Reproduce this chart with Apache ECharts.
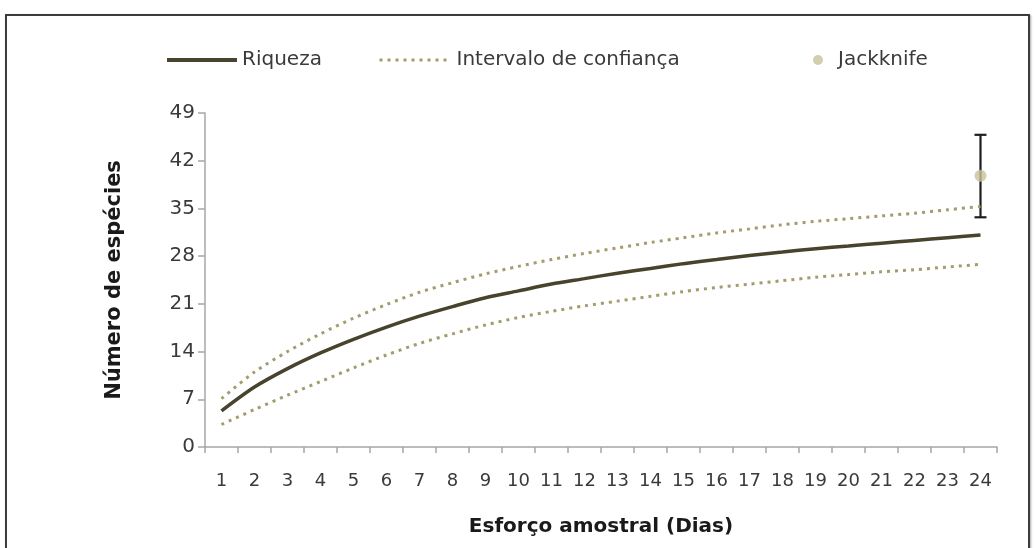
<!DOCTYPE html>
<html>
<head>
<meta charset="utf-8">
<script src="https://cdn.jsdelivr.net/npm/echarts@6/dist/echarts.min.js"></script>
<style>
  html, body { margin: 0; padding: 0; background: #ffffff; }
  #chart { position: absolute; left: 0; top: 0; width: 1034px; height: 548px; }
  #frame { position: absolute; left: 5px; top: 14px; width: 1021px; height: 560px;
           border: 2px solid #3c3c3c; box-shadow: 1px 1px 2px rgba(0,0,0,0.35); pointer-events: none; }
</style>
</head>
<body>
<div id="chart"></div>
<div id="frame"></div>
<script>
const days = ['1','2','3','4','5','6','7','8','9','10','11','12','13','14','15','16','17','18','19','20','21','22','23','24'];
const riqueza = [5.3, 8.8, 11.5, 13.8, 15.8, 17.6, 19.2, 20.6, 21.9, 22.9, 23.9, 24.7, 25.5, 26.2, 26.9, 27.5, 28.1, 28.6, 29.1, 29.5, 29.9, 30.3, 30.7, 31.1];
const icSuperior = [7.1, 11.0, 14.0, 16.6, 18.9, 20.9, 22.7, 24.1, 25.4, 26.5, 27.5, 28.4, 29.2, 30.0, 30.7, 31.4, 32.0, 32.6, 33.1, 33.5, 33.9, 34.3, 34.8, 35.3];
const icInferior = [3.3, 5.5, 7.6, 9.6, 11.6, 13.5, 15.2, 16.6, 17.9, 19.0, 19.9, 20.7, 21.4, 22.1, 22.8, 23.4, 23.9, 24.4, 24.9, 25.3, 25.7, 26.0, 26.4, 26.8];
const jackknifeDay = ['24'];
const jackknife = [39.8];
const jackknifeMin = [33.7];
const jackknifeMax = [45.8];
const yMin = 0, yMax = 49, yStep = 7;

const FONT = 'DejaVu Sans';
const solidColor = '#47432c';
const dotColor = '#a39c6c';
const pointColor = '#c9c29b';
const textColor = '#3a3a3a';

const chart = echarts.init(document.getElementById('chart'), null, { renderer: 'canvas' });

const legendText = { fontFamily: FONT, fontSize: 20, color: textColor };

const option = {
  backgroundColor: '#ffffff',
  animation: false,
  legend: [
    { data: ['Riqueza'], left: 165, top: 50, padding: 0, itemWidth: 70, itemHeight: 14,
      itemStyle: { opacity: 0 }, lineStyle: { width: 4 }, textStyle: legendText },
    { data: ['Intervalo de confiança'], left: 378, top: 50, padding: 0, itemWidth: 72, itemHeight: 14,
      itemStyle: { opacity: 0 }, lineStyle: { width: 3 }, textStyle: legendText },
    { data: ['Jackknife'], left: 813, top: 50, padding: 0, itemWidth: 20, itemHeight: 10,
      textStyle: Object.assign({}, legendText, { padding: [0, 0, 0, 5] }) }
  ],
  grid: { left: 205, right: 37, top: 113, bottom: 101, containLabel: false },
  xAxis: {
    type: 'category',
    data: days,
    boundaryGap: true,
    name: 'Esforço amostral (Dias)',
    nameLocation: 'middle',
    nameGap: 70,
    nameTextStyle: { fontFamily: FONT, fontSize: 20, fontWeight: 'bold', color: '#1a1a1a' },
    axisLine: { lineStyle: { color: '#a6a6a6', width: 1.5 } },
    axisTick: { show: true, length: 6, lineStyle: { color: '#a6a6a6', width: 1.5 } },
    axisLabel: { fontFamily: FONT, fontSize: 18, color: textColor, margin: 25, interval: 0 },
    splitLine: { show: false }
  },
  yAxis: {
    type: 'value',
    min: yMin, max: yMax, interval: yStep,
    name: 'Número de espécies',
    nameLocation: 'middle',
    nameGap: 80,
    nameTextStyle: { fontFamily: FONT, fontSize: 21, fontWeight: 'bold', color: '#1a1a1a' },
    axisLine: { show: true, lineStyle: { color: '#a6a6a6', width: 1.5 } },
    axisTick: { show: true, length: 7, lineStyle: { color: '#a6a6a6', width: 1.5 } },
    axisLabel: { fontFamily: FONT, fontSize: 20, color: textColor, margin: 10 },
    splitLine: { show: false }
  },
  series: [
    {
      name: 'Intervalo de confiança', type: 'line', data: icSuperior, smooth: 0.3,
      symbol: 'none', lineStyle: { color: dotColor, width: 3, type: [3, 5] },
      itemStyle: { color: dotColor }
    },
    {
      name: 'Intervalo de confiança', type: 'line', data: icInferior, smooth: 0.3,
      symbol: 'none', lineStyle: { color: dotColor, width: 3, type: [3, 5] },
      itemStyle: { color: dotColor }
    },
    {
      name: 'Riqueza', type: 'line', data: riqueza, smooth: 0.3,
      symbol: 'none', lineStyle: { color: solidColor, width: 3.5 },
      itemStyle: { color: solidColor }
    },
    {
      name: 'Erro', type: 'custom',
      data: jackknifeDay.map((d, i) => [d, jackknifeMin[i], jackknifeMax[i]]),
      encode: { x: 0, y: [1, 2] },
      renderItem: function (params, api) {
        const x = api.value(0);
        const lo = api.coord([x, api.value(1)]);
        const hi = api.coord([x, api.value(2)]);
        const half = 6;
        const style = { stroke: '#1e1e1e', lineWidth: 2.2 };
        return {
          type: 'group',
          children: [
            { type: 'line', shape: { x1: lo[0], y1: lo[1], x2: hi[0], y2: hi[1] }, style: style },
            { type: 'line', shape: { x1: lo[0] - half, y1: lo[1], x2: lo[0] + half, y2: lo[1] }, style: style },
            { type: 'line', shape: { x1: hi[0] - half, y1: hi[1], x2: hi[0] + half, y2: hi[1] }, style: style }
          ]
        };
      },
      z: 3
    },
    {
      name: 'Jackknife', type: 'scatter',
      data: jackknifeDay.map((d, i) => [d, jackknife[i]]),
      symbol: 'circle', symbolSize: 12,
      itemStyle: { color: pointColor },
      z: 4
    }
  ]
};
chart.setOption(option);
</script>
</body>
</html>
